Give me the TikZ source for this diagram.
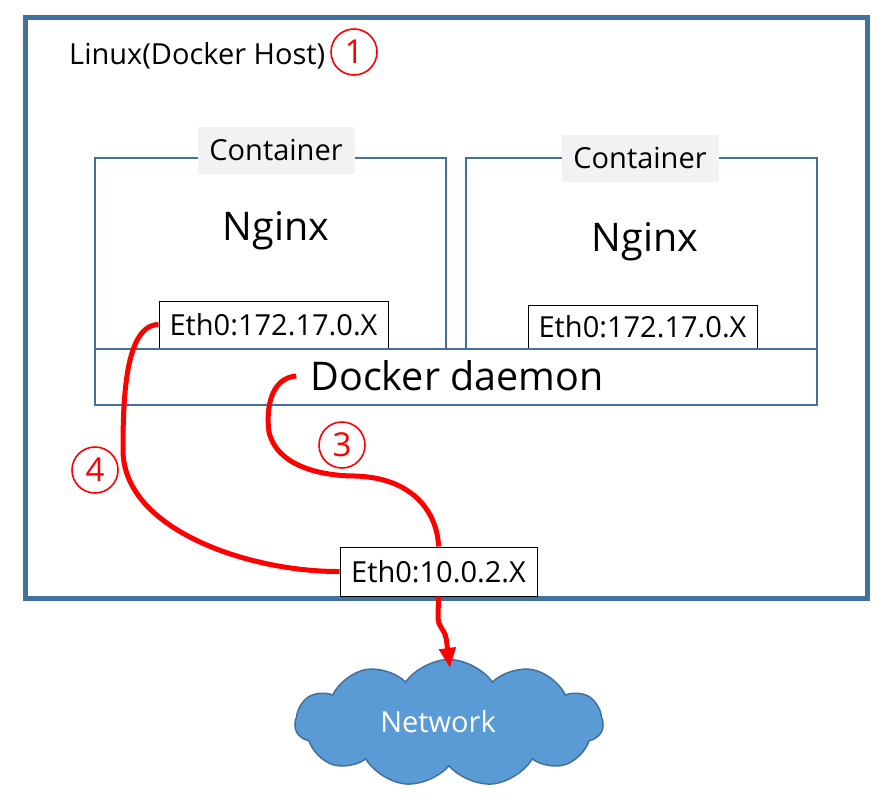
\documentclass[tikz,border=0pt]{standalone}
\usepackage{fontspec}
\setmainfont{Open Sans}
\usetikzlibrary{shapes.symbols,arrows.meta}
\definecolor{hostblue}{HTML}{41719C}
\definecolor{cloudblue}{HTML}{5B9BD5}
\definecolor{taggray}{HTML}{F2F2F2}

\def\wBox{351}
\def\hBox{191}

\begin{document}
\begin{tikzpicture}[x=1pt, y=-1pt, >=Stealth,
    hostframe/.style={draw=hostblue, line width=5pt, anchor=north west, inner sep=0pt},
    cbox/.style={draw=hostblue, line width=1.6pt, anchor=north west, inner sep=0pt},
    tag/.style={fill=taggray, inner sep=0pt, minimum width=157, minimum height=47, font=\fontsize{29}{31}\selectfont},
    ethbox/.style={draw=black, line width=1pt, fill=white, inner sep=0pt, font=\fontsize{29}{31}\selectfont},
    plain/.style={inner sep=0pt, font=\fontsize{29}{31}\selectfont},
    big/.style={inner sep=0pt, font=\fontsize{39.5}{42}\selectfont},
    stepmark/.style={circle, draw=red, line width=1.6pt, text=red, minimum size=46, inner sep=0pt, font=\fontsize{33}{35}\selectfont},
    link/.style={draw=red, line width=5pt}]
        \useasboundingbox (0,0) rectangle (883,800);

        % host
        \node[hostframe, minimum width=842, minimum height=581] (host) at (23,15) {};
        \node[plain, anchor=base west] (hostname) at (69,65) {Linux(Docker Host)};
        \node[stepmark] (one) at (354,52) {1};

        % containers
        \foreach \name/\x in {leftc/94, rightc/465} {
            \node[cbox, minimum width=\wBox, minimum height=\hBox] (\name) at (\x,157) {};
        }
        \node[tag] (lefttag) at (276,150) {Container};
        \node[tag] (righttag) at (640,158) {Container};
        \node[big] (leftapp) at (276,231) {Nginx};
        \node[big] (rightapp) at (645,242) {Nginx};
        \node[ethbox, minimum width=229, minimum height=47] (ethL) at (273.5,324.5) {Eth0:172.17.0.X};
        \node[ethbox, minimum width=229, minimum height=43] (ethR) at (642.5,326.5) {Eth0:172.17.0.X};

        % daemon
        \node[cbox, minimum width=722, minimum height=56] (daemon) at (94,348) {};
        \node[big] (daemontext) at (457,376) {Docker daemon};

        % host interface
        \node[ethbox, minimum width=197, minimum height=49] (ethH) at (438.5,571.5) {Eth0:10.0.2.X};

        % network
        \node[cloud, cloud puffs=11, cloud puff arc=110, aspect=2.4, fill=cloudblue, draw=hostblue, line width=1.5pt,
              minimum width=308, minimum height=127, inner sep=0pt] (net) at (449,723) {};
        \node[plain, text=white] (nettext) at (438,722) {Network};
        \coordinate (netin) at (450,668);

        % paths
        \draw[link] (ethL.west) .. controls (125,325) and (123,400) .. (123,450)
            .. controls (123,530) and (250,572) .. (ethH.west);
        \draw[link] ([xshift=-14pt]daemontext.west) .. controls (270,378) and (266,410) .. (269,432)
            .. controls (278,470) and (330,476) .. (355,476)
            .. controls (420,478) and (438,520) .. (ethH.north);
        \draw[link, -{Triangle[length=20pt, width=16pt]}] (ethH.south) -- (438,618)
            .. controls (439,630) and (446,628) .. (447,645) -- (netin);
        \node[stepmark] (three) at (342,445) {3};
        \node[stepmark] (four) at (95,470) {4};
      \end{tikzpicture}
\end{document}
